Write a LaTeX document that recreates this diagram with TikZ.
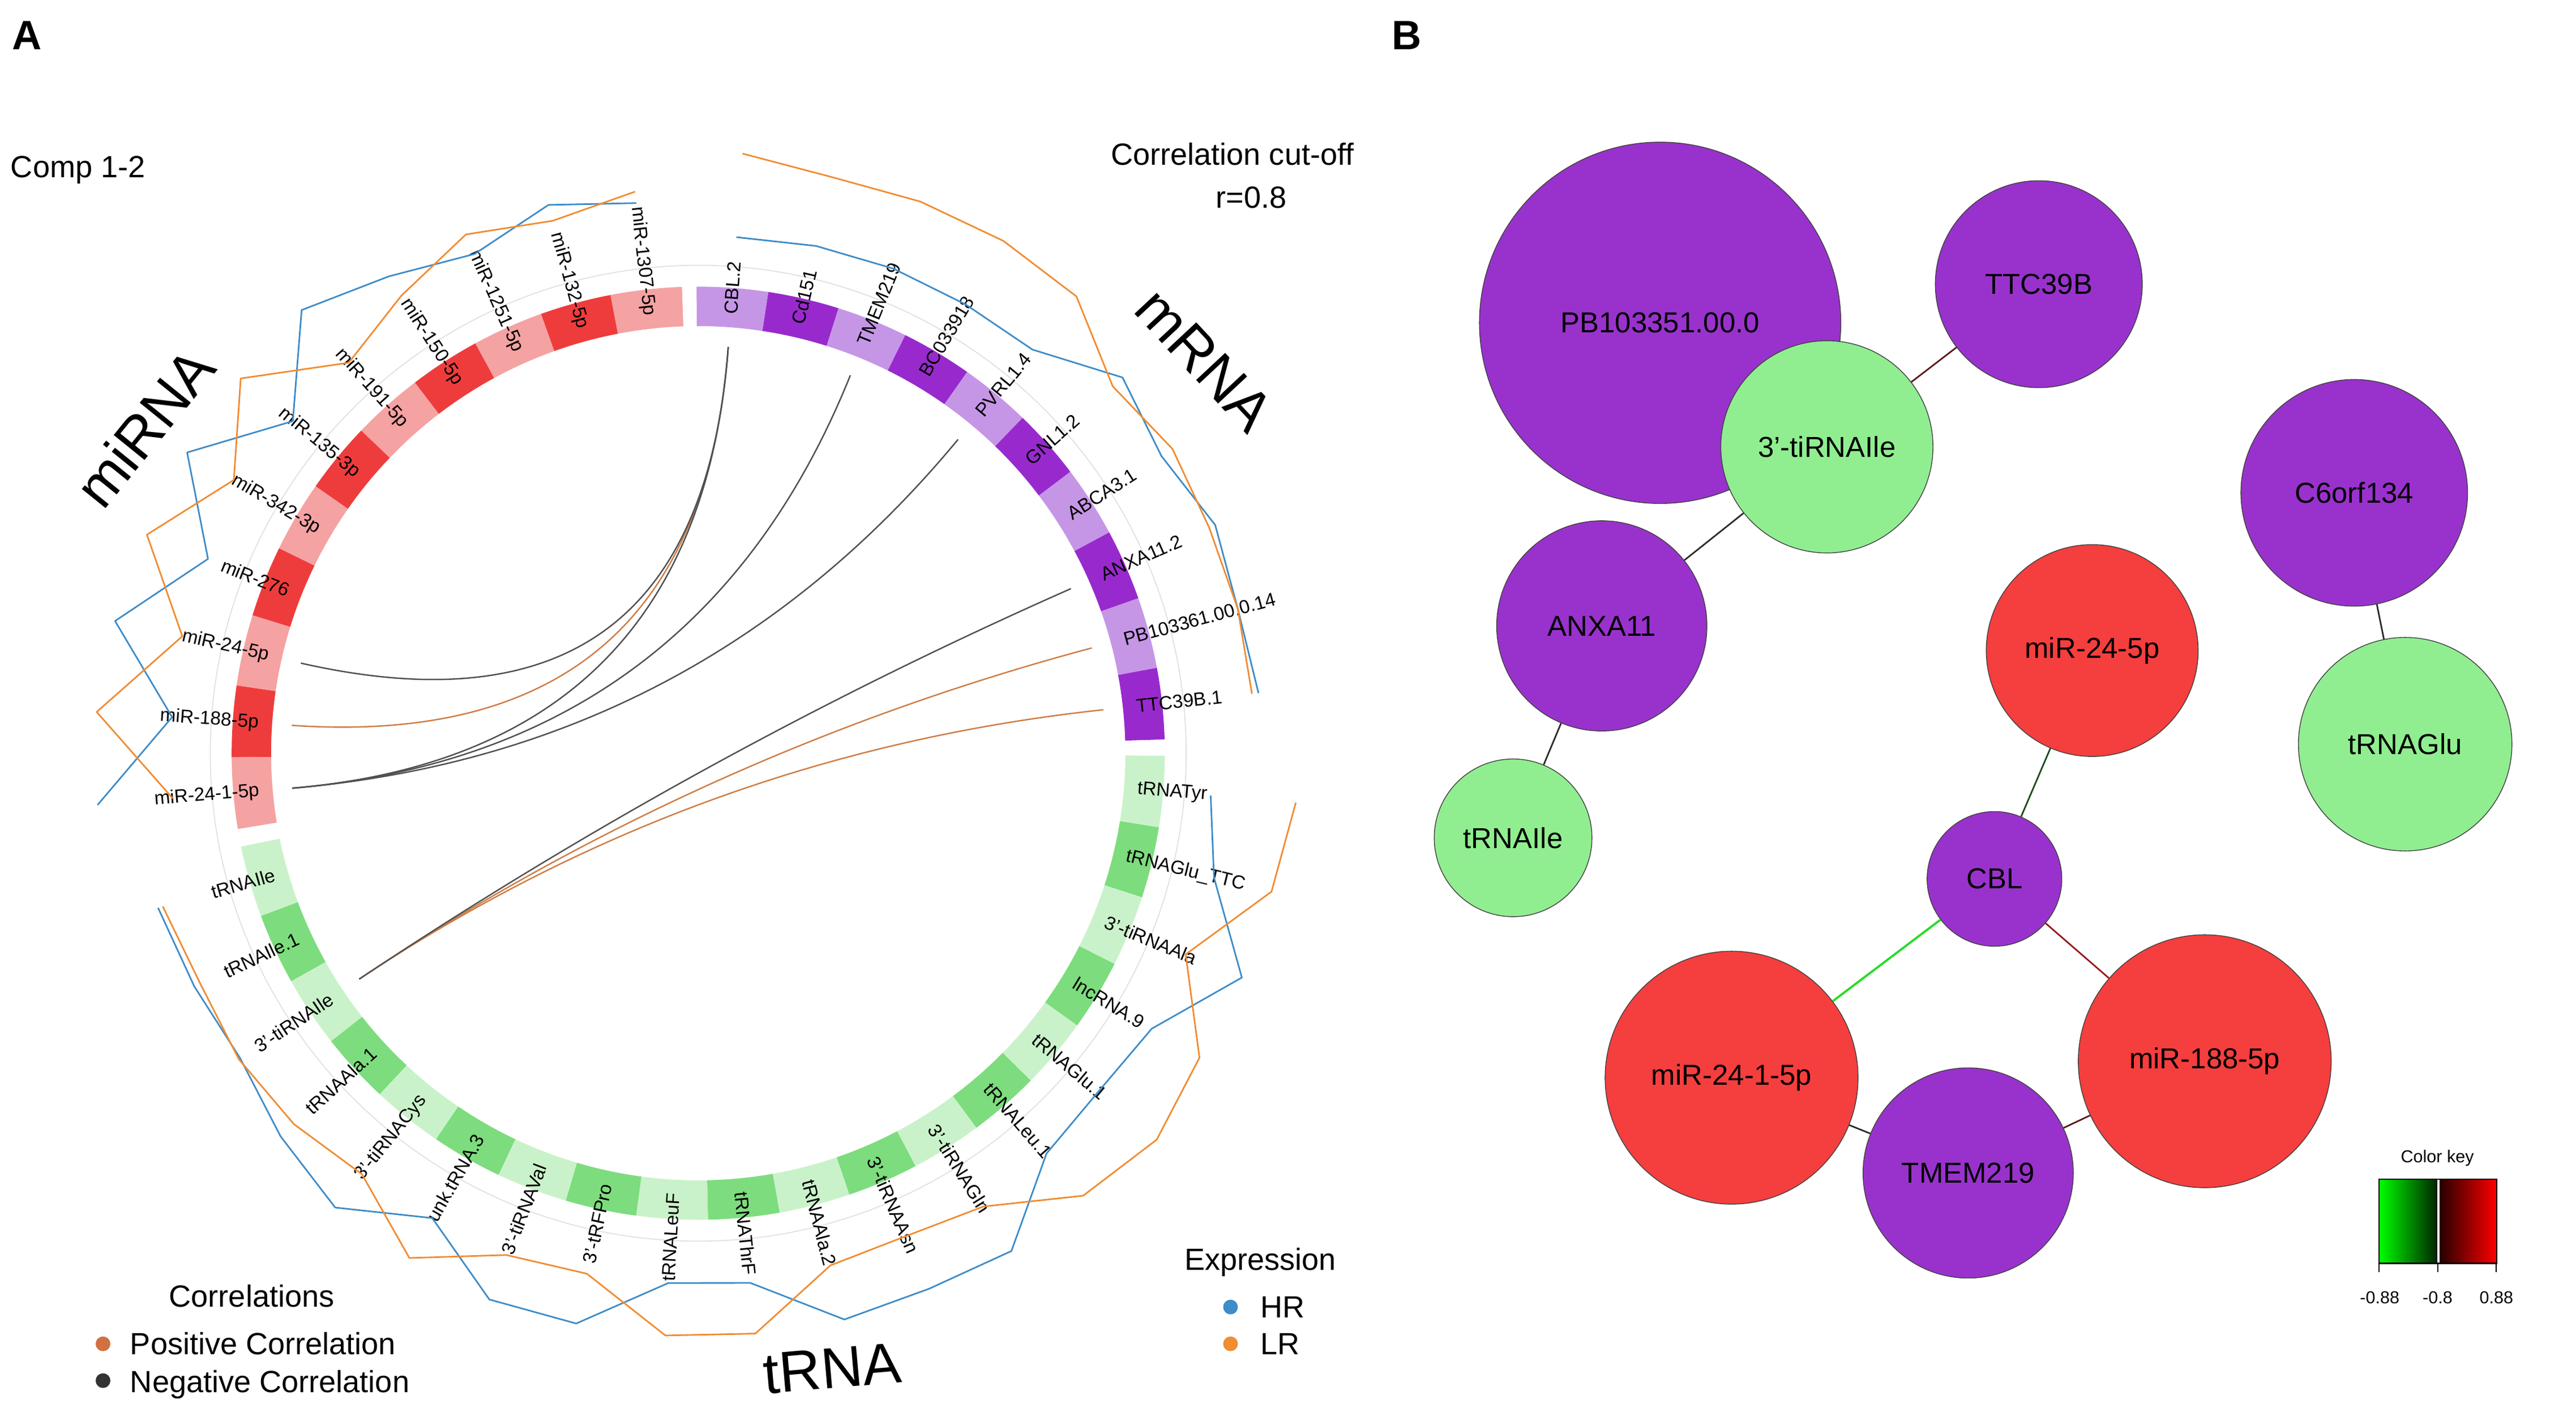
\documentclass[tikz,border=0pt]{standalone}
\usepackage{fontspec}
\setmainfont{Liberation Sans}
\usetikzlibrary{calc}

\definecolor{mirlight}{RGB}{245,162,162}
\definecolor{mirdark}{RGB}{238,60,60}
\definecolor{mrnalight}{RGB}{198,150,230}
\definecolor{mrnadark}{RGB}{152,42,205}
\definecolor{trnalight}{RGB}{202,242,202}
\definecolor{trnadark}{RGB}{125,220,125}
\definecolor{hrblue}{RGB}{62,140,200}
\definecolor{lrorange}{RGB}{240,140,50}
\definecolor{poscol}{RGB}{205,125,70}
\definecolor{negcol}{RGB}{80,80,80}
\definecolor{nodepurple}{RGB}{153,50,204}
\definecolor{nodered}{RGB}{245,62,62}
\definecolor{nodegreen}{RGB}{144,238,144}
\definecolor{edgedark}{RGB}{40,45,40}
\definecolor{edgedkgreen}{RGB}{30,75,30}
\definecolor{edgegreen}{RGB}{40,220,40}
\definecolor{edgered}{RGB}{150,25,25}
\definecolor{edgebrown}{RGB}{90,25,25}

\tikzset{
  seglab/.style={font=\fontsize{9.5}{10}\selectfont, inner sep=0pt},
  blocklab/.style={font=\fontsize{29}{31}\selectfont, inner sep=0pt},
  plain text/.style={font=\fontsize{15.4}{17}\selectfont, inner sep=0pt},
  panel letter/.style={font=\fontsize{20.6}{22}\selectfont\bfseries, inner sep=0pt},
  small text/.style={font=\fontsize{8.7}{10}\selectfont, inner sep=0pt},
  track/.style={black!12, line width=0.5pt},
  hr line/.style={hrblue, line width=0.8pt, line join=round},
  lr line/.style={lrorange, line width=0.8pt, line join=round},
  neg chord/.style={negcol, line width=0.7pt},
  pos chord/.style={poscol, line width=0.7pt},
  dot/.style={circle, inner sep=0pt, minimum size=0.26cm},
  net node/.style={circle, draw=black!75, line width=0.4pt, inner sep=0pt,
    font=\fontsize{14.5}{16}\selectfont, minimum size=#1*0.058036cm},
  net edge/.style={line width=0.8pt}
}

\begin{document}
\begin{tikzpicture}[x=0.029018cm, y=0.029018cm]
\useasboundingbox (0,0) rectangle (1568,857);

% panel letters and titles
\node[panel letter, anchor=base west] (letA) at (7,827) {A};
\node[panel letter, anchor=base west] (letB) at (847,827) {B};
\node[plain text, anchor=base west] (comp) at (6.3,749) {Comp 1-2};
\node[plain text, anchor=base west] (cutoff) at (676,756.5) {Correlation cut-off};
\node[plain text, anchor=base] (rval) at (761.7,730.2) {r=0.8};

% circos plot
\begin{scope}[shift={(425,398.5)}]
  \coordinate (o) at (0,0);
  \draw[track] (o) circle[radius=297];

  % miRNA segments
  \foreach \k in {0,...,10} {
    \pgfmathsetmacro\aa{92+8.85*\k}
    \pgfmathsetmacro\ab{\aa+8.85}
    \pgfmathtruncatemacro\odd{mod(\k,2)}
    \ifnum\odd=0 \colorlet{segcol}{mirlight}\else\colorlet{segcol}{mirdark}\fi
    \fill[segcol] (\aa:260) arc[start angle=\aa, end angle=\ab, radius=260]
      -- (\ab:284) arc[start angle=\ab, end angle=\aa, radius=284] -- cycle;
  }
  % mRNA segments
  \foreach \k in {0,...,9} {
    \pgfmathsetmacro\aa{90.2-8.85*\k}
    \pgfmathsetmacro\ab{\aa-8.85}
    \pgfmathtruncatemacro\odd{mod(\k,2)}
    \ifnum\odd=0 \colorlet{segcol}{mrnalight}\else\colorlet{segcol}{mrnadark}\fi
    \fill[segcol] (\aa:260) arc[start angle=\aa, end angle=\ab, radius=260]
      -- (\ab:284) arc[start angle=\ab, end angle=\aa, radius=284] -- cycle;
  }
  % tRNA segments
  \foreach \k in {0,...,18} {
    \pgfmathsetmacro\aa{-0.3-8.85*\k}
    \pgfmathsetmacro\ab{\aa-8.85}
    \pgfmathtruncatemacro\odd{mod(\k,2)}
    \ifnum\odd=0 \colorlet{segcol}{trnalight}\else\colorlet{segcol}{trnadark}\fi
    \fill[segcol] (\aa:260) arc[start angle=\aa, end angle=\ab, radius=260]
      -- (\ab:284) arc[start angle=\ab, end angle=\aa, radius=284] -- cycle;
  }

  % segment labels
  \foreach \lab [count=\k from 0] in {miR-1307-5p, miR-132-5p, miR-1251-5p, miR-150-5p,
      miR-191-5p, miR-135-3p, miR-342-3p, miR-276, miR-24-5p, miR-188-5p, miR-24-1-5p} {
    \pgfmathsetmacro\a{92+8.85*(\k+0.5)}
    \pgfmathsetmacro\b{\a+180}
    \node[seglab, anchor=east, rotate=\b] (milab\k) at (\a:268) {\lab};
  }
  \foreach \lab [count=\k from 0] in {CBL.2, Cd151, TMEM219, BC033918, PVRL1.4, GNL1.2,
      ABCA3.1, ANXA11.2, PB103361.00.0.14, TTC39B.1} {
    \pgfmathsetmacro\a{90.2-8.85*(\k+0.5)}
    \node[seglab, anchor=west, rotate=\a] (mlab\k) at (\a:268) {\lab};
  }
  \foreach \lab [count=\k from 0] in {tRNATyr, tRNAGlu\_TTC, 3'-tiRNAAla, lncRNA.9,
      tRNAGlu.1, tRNALeu.1, 3'-tiRNAGln, 3'-tiRNAAsn, tRNAAla.2, tRNAThrF} {
    \pgfmathsetmacro\a{-0.3-8.85*(\k+0.5)}
    \node[seglab, anchor=west, rotate=\a] (tlab\k) at (\a:268) {\lab};
  }
  \foreach \lab [count=\k from 10] in {tRNALeuF, 3'-tRFPro, 3'-tiRNAVal, unk.tRNA.3,
      3'-tiRNACys, tRNAAla.1, 3'-tiRNAIle, tRNAIle.1, tRNAIle} {
    \pgfmathsetmacro\a{-0.3-8.85*(\k+0.5)}
    \pgfmathsetmacro\b{\a+180}
    \node[seglab, anchor=east, rotate=\b] (tlab\k) at (\a:268) {\lab};
  }

  % expression lines
  \draw[hr line] ({92+8.85*0.5}:337) \foreach \r [count=\k from 1] in
    {346,333,346,362,319,361,321,364,321,367} { -- ({92+8.85*(\k+0.5)}:\r) };
  \draw[lr line] ({92+8.85*0.5}:344) \foreach \r [count=\k from 1] in
    {336,346,332,319,360,328,361,322,367,321} { -- ({92+8.85*(\k+0.5)}:\r) };
  \draw[hr line] ({90.2-8.85*0.5}:315) \foreach \r [count=\k from 1] in
    {317,318,318,319,345,335,344,340,343} { -- ({90.2-8.85*(\k+0.5)}:\r) };
  \draw[lr line] ({90.2-8.85*0.5}:366) \foreach \r [count=\k from 1] in
    {360,362,363,361,337,343,340,340,339} { -- ({90.2-8.85*(\k+0.5)}:\r) };
  \draw[hr line] ({-0.3-8.85*0.5}:313) \foreach \r [count=\k from 1] in
    {323,358,323,319,323,358,355,356,324,323,355,356,326,354,345,335,338,342}
    { -- ({-0.3-8.85*(\k+0.5)}:\r) };
  \draw[lr line] ({-0.3-8.85*0.5}:365) \foreach \r [count=\k from 1] in
    {359,321,357,365,357,326,320,322,355,355,324,327,354,328,334,336,334,339}
    { -- ({-0.3-8.85*(\k+0.5)}:\r) };

  % chord ends
  \foreach \k in {0,...,10} \coordinate (mi\k) at ({92+8.85*(\k+0.5)}:248);
  \foreach \k in {0,...,9} \coordinate (m\k) at ({90.2-8.85*(\k+0.5)}:248);
  \foreach \k in {0,...,18} \coordinate (t\k) at ({-0.3-8.85*(\k+0.5)}:248);

  % correlations
  \foreach \p/\q in {mi9/m0, m8/t16, m9/t16}
    \draw[pos chord] (\p) .. controls ($(\p)!0.667!(o)$) and ($(\q)!0.667!(o)$) .. (\q);
  \foreach \p/\q in {mi8/m0, mi10/m0, mi10/m2, mi10/m4, m7/t16}
    \draw[neg chord] (\p) .. controls ($(\p)!0.667!(o)$) and ($(\q)!0.667!(o)$) .. (\q);
\end{scope}

% block names
\node[blocklab, rotate=51] (mirnalab) at (88,597) {miRNA};
\node[blocklab, rotate=-47] (mrnalab) at (733,638) {mRNA};
\node[blocklab, rotate=5] (trnalab) at (506.5,24) {tRNA};

% legends
\node[plain text, anchor=base west] (corrtitle) at (102.7,61.4) {Correlations};
\node[dot, fill=poscol!90!red] (posdot) at (62.7,39) {};
\node[plain text, anchor=base west] (postext) at (79,32.4) {Positive Correlation};
\node[dot, fill=black!80] (negdot) at (62.7,16.6) {};
\node[plain text, anchor=base west] (negtext) at (79,9.5) {Negative Correlation};

\node[plain text, anchor=base west] (exptitle) at (720.8,83.8) {Expression};
\node[dot, fill=hrblue] (hrdot) at (749,61.4) {};
\node[plain text, anchor=base west] (hrtext) at (767,54.8) {HR};
\node[dot, fill=lrorange] (lrdot) at (749,39) {};
\node[plain text, anchor=base west] (lrtext) at (767,32.4) {LR};

% network
\node[net node=110, fill=nodepurple] (pb) at (1010.5,660.5) {PB103351.00.0};
\node[net node=64.6, fill=nodegreen] (tiile) at (1112,585) {3'-tiRNAIle};
\node[net node=63, fill=nodepurple] (ttc) at (1241,684) {TTC39B};
\node[net node=64, fill=nodepurple] (anxa) at (975,476) {ANXA11};
\node[net node=48, fill=nodegreen] (trnaile) at (921,347) {tRNAIle};
\node[net node=69, fill=nodepurple] (c6orf) at (1433,557) {C6orf134};
\node[net node=65, fill=nodegreen] (trnaglu) at (1464,404) {tRNAGlu};
\node[net node=64.5, fill=nodered] (mir245) at (1273.5,461) {miR-24-5p};
\node[net node=41, fill=nodepurple] (cbl) at (1214,322) {CBL};
\node[net node=77, fill=nodered] (mir2415) at (1054,201) {miR-24-1-5p};
\node[net node=64, fill=nodepurple] (tmem) at (1198,143) {TMEM219};
\node[net node=77, fill=nodered] (mir188) at (1342,211) {miR-188-5p};

\draw[net edge, edgebrown] (tiile) -- (ttc);
\draw[net edge, edgedark] (tiile) -- (anxa);
\draw[net edge, edgedark] (anxa) -- (trnaile);
\draw[net edge, edgedark] (c6orf) -- (trnaglu);
\draw[net edge, edgedkgreen] (mir245) -- (cbl);
\draw[net edge, edgegreen, line width=1.1pt] (cbl) -- (mir2415);
\draw[net edge, edgered] (cbl) -- (mir188);
\draw[net edge, edgedark] (mir2415) -- (tmem);
\draw[net edge, edgebrown] (tmem) -- (mir188);

% colour key
\shade[left color=green, right color=green!15!black] (1448,88) rectangle (1483.3,139.3);
\shade[left color=red!15!black, right color=red] (1485,88) rectangle (1519.8,139.3);
\draw[line width=0.6pt] (1448,88) rectangle (1519.8,139.3);
\draw[line width=0.6pt] (1483.2,88) -- (1483.2,139.3);
\foreach \tx in {1448,1483.8,1519.5} \draw[line width=0.6pt] (\tx,88) -- (\tx,82.5);
\node[small text, anchor=base] (keytitle) at (1483.6,149.4) {Color key};
\node[small text, anchor=base] (keylo) at (1448.5,63.4) {-0.88};
\node[small text, anchor=base] (keymid) at (1483.7,63.4) {-0.8};
\node[small text, anchor=base] (keyhi) at (1519.5,63.4) {0.88};
\end{tikzpicture}
\end{document}
